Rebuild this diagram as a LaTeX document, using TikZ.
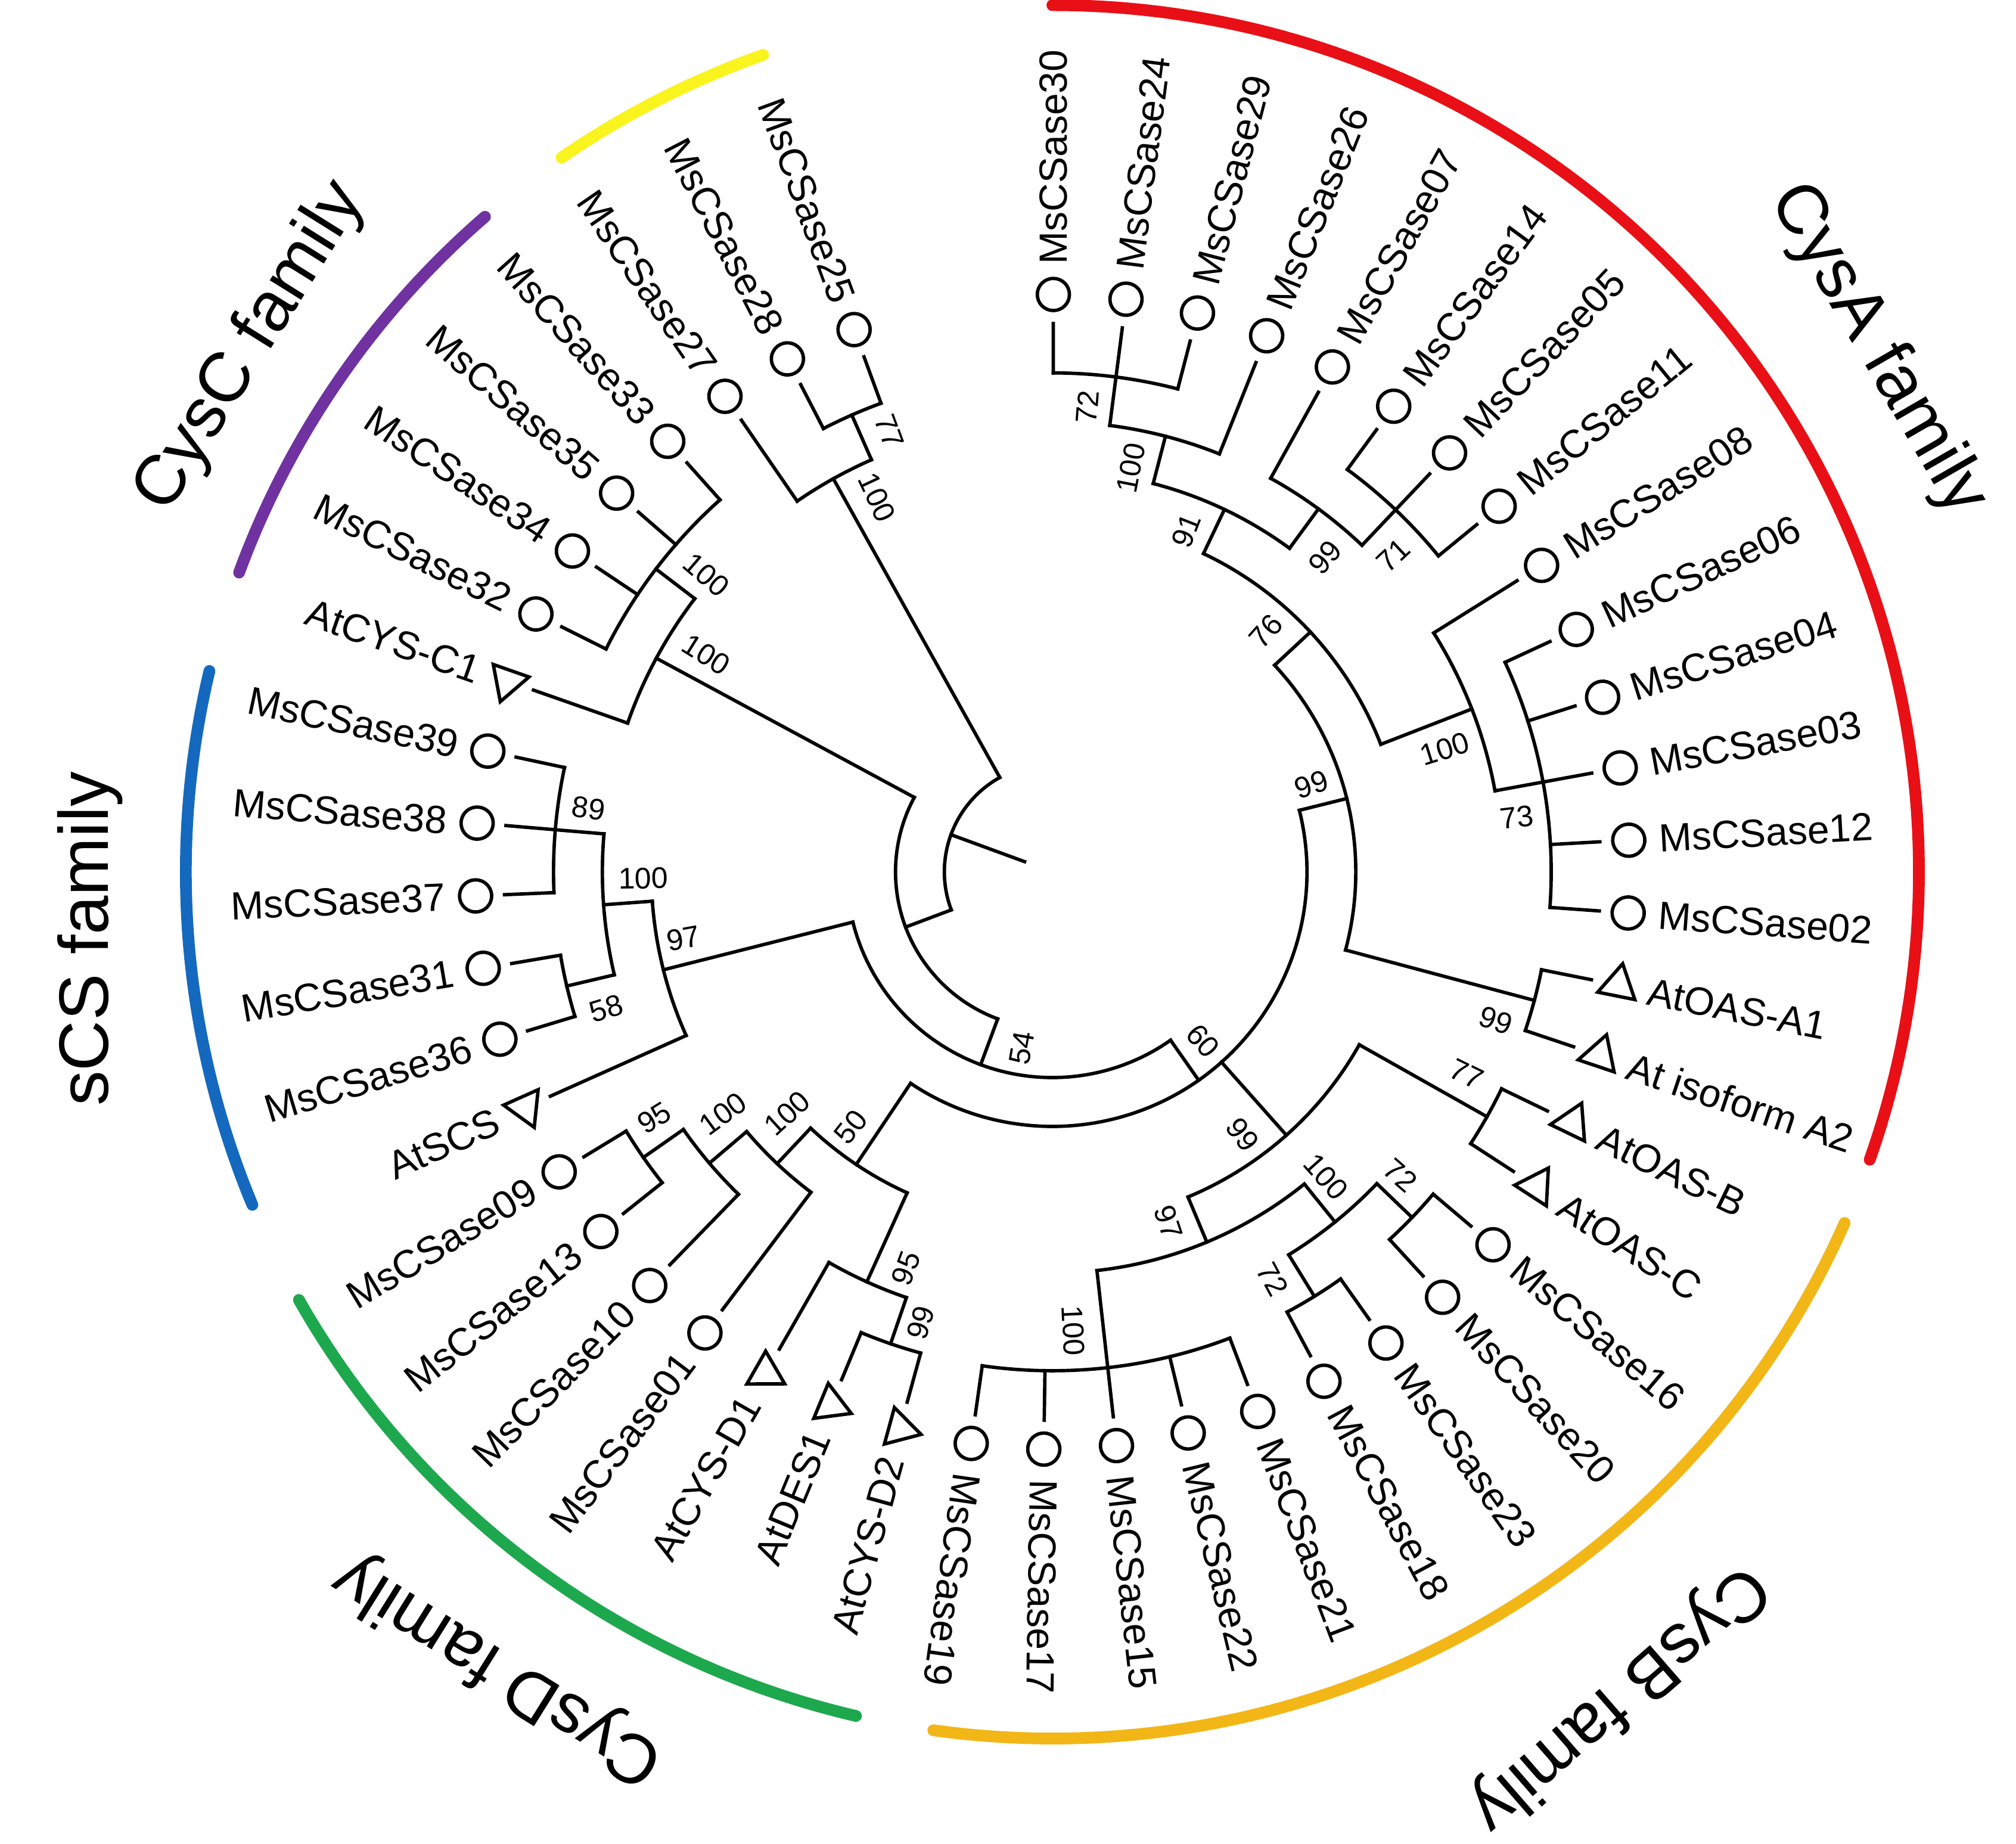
\documentclass[tikz,border=0pt]{standalone}
\usepackage{fontspec}
\setmainfont{Liberation Sans}
\usetikzlibrary{shapes.geometric}

\definecolor{cysA}{RGB}{232,16,22}
\definecolor{cysB}{RGB}{242,182,22}
\definecolor{cysD}{RGB}{30,168,78}
\definecolor{scs}{RGB}{20,105,190}
\definecolor{cysC}{RGB}{112,50,160}
\definecolor{cysY}{RGB}{250,244,30}

% angle of the n-th leaf, clockwise from MsCSase30
\newcommand{\tipang}[1]{89.9-7.23*(#1-1)}

\tikzset{
  br/.style={line width=0.75pt, line cap=rect},
  famarc/.style={line width=2.6pt, line cap=round},
  leaf/.style={font=\fontsize{8.7}{9}\selectfont, inner sep=0pt},
  boot/.style={font=\fontsize{6.6}{7}\selectfont, inner sep=0pt},
  fam/.style={font=\fontsize{15.5}{17}\selectfont, inner sep=0pt},
  circmark/.style={circle, draw, line width=0.75pt, minimum size=0.25cm, inner sep=0pt, outer sep=0.1cm},
  trimark/.style={regular polygon, regular polygon sides=3, draw, line width=0.75pt, minimum size=0.34cm, inner sep=0pt, outer sep=0.1cm}
}

\begin{document}
\begin{tikzpicture}
\useasboundingbox (-8.185,-7.56) rectangle (7.495,6.78);

% family arcs
\draw[famarc, cysA] (90:6.74) arc[start angle=90, end angle=-19.4, radius=6.74];
\draw[famarc, cysB] (-23.9:6.74) arc[start angle=-23.9, end angle=-97.9, radius=6.74];
\draw[famarc, cysD] (256.9:6.74) arc[start angle=256.9, end angle=209.6, radius=6.74];
\draw[famarc, scs] (202.6:6.74) arc[start angle=202.6, end angle=166.6, radius=6.74];
\draw[famarc, cysC] (159.8:6.74) arc[start angle=159.8, end angle=130.9, radius=6.74];
\draw[famarc, cysY] (124.5:6.74) arc[start angle=124.5, end angle=109.5, radius=6.74];

\node[fam, rotate=-60] (famA) at (6.415,4.06) {CysA family};
\node[fam, rotate=-139] (famB) at (4.40,-6.42) {CysB family};
\node[fam, rotate=148] (famD) at (-4.305,-6.20) {CysD family};
\node[fam, rotate=90] (famS) at (-7.485,-0.52) {sCS family};
\node[fam, rotate=58] (famC) at (-6.235,4.08) {CysC family};

% internal arcs: radius / first leaf / last leaf
\foreach \r/\p/\q in {
  3.88/1/3, 3.50/2/4, 3.88/6/8, 3.50/5/7, 3.12/3/6, 3.88/10/14, 3.50/9/12,
  2.74/4.5/10.5, 3.88/15/16, 2.36/7.5/15.5,
  3.88/17/18, 3.88/19/20, 3.88/21/22, 3.50/19.5/21.5, 3.88/23/27, 3.12/20.5/25, 2.74/17.5/22.75,
  3.88/28/29, 3.50/28.5/30, 3.88/33/34, 3.50/32/33.5, 3.12/31/32.75, 2.74/29.25/31.875,
  3.88/36/37, 3.88/38/40, 3.50/36.5/39, 3.12/35/37.75,
  3.88/42/45, 3.50/41/43.5,
  3.88/47/48, 3.50/46/47.5,
  1.98/11.5/30.5625, 1.60/21.03125/36.375, 1.22/28.703125/42.25, 0.84/35.4765625/46.75}
{
  \pgfmathsetmacro{\ta}{\tipang{\p}}
  \pgfmathsetmacro{\tb}{\tipang{\q}}
  \draw[br] (\ta:\r) arc[start angle=\ta, end angle=\tb, radius=\r];
}

% radial stems: leaf position / inner radius / outer radius
\foreach \p/\r/\s in {
  3/3.12/3.50, 6/3.12/3.50, 4.5/2.74/3.12, 10.5/2.74/3.50, 7.5/2.36/2.74, 15.5/2.36/3.88, 11.5/1.98/2.36,
  17.5/2.74/3.88, 19.5/3.50/3.88, 21.5/3.50/3.88, 20.5/3.12/3.50, 22.75/2.74/3.12, 20.125/1.98/2.74,
  28.5/3.50/3.88, 29.25/2.74/3.50, 33.5/3.50/3.88, 32.75/3.12/3.50, 31.875/2.74/3.12, 30.5625/1.98/2.74,
  36.5/3.50/3.88, 37.75/3.12/3.50, 36.375/1.60/3.12,
  43.5/3.50/3.88, 42.25/1.22/3.50,
  47.5/3.50/3.88, 46.75/0.84/3.50,
  21.03125/1.60/1.98, 28.703125/1.22/1.60, 35.4765625/0.84/1.22, 41.11328125/0.23/0.84}
{
  \pgfmathsetmacro{\ta}{\tipang{\p}}
  \draw[br] (\ta:\r) -- (\ta:\s);
}

% leaves
\foreach \lab/\lev/\shp [count=\n] in {
  MsCSase30/3.88/circmark, MsCSase24/3.50/circmark, MsCSase29/3.88/circmark, MsCSase26/3.50/circmark,
  MsCSase07/3.50/circmark, MsCSase14/3.88/circmark, MsCSase05/3.50/circmark, MsCSase11/3.88/circmark,
  MsCSase08/3.50/circmark, MsCSase06/3.88/circmark, MsCSase04/3.88/circmark, MsCSase03/3.50/circmark,
  MsCSase12/3.88/circmark, MsCSase02/3.88/circmark, AtOAS-A1/3.88/trimark, At isoform A2/3.88/trimark,
  AtOAS-B/3.88/trimark, AtOAS-C/3.88/trimark, MsCSase16/3.88/circmark, MsCSase20/3.88/circmark,
  MsCSase23/3.88/circmark, MsCSase18/3.88/circmark, MsCSase21/3.88/circmark, MsCSase22/3.88/circmark,
  MsCSase15/3.12/circmark, MsCSase17/3.88/circmark, MsCSase19/3.88/circmark, AtCYS-D2/3.88/trimark,
  AtDES1/3.88/trimark, AtCYS-D1/3.50/trimark, MsCSase01/3.12/circmark, MsCSase10/3.50/circmark,
  MsCSase13/3.88/circmark, MsCSase09/3.88/circmark, AtSCS/3.12/trimark, MsCSase36/3.88/circmark,
  MsCSase31/3.88/circmark, MsCSase37/3.88/circmark, MsCSase38/3.50/circmark, MsCSase39/3.88/circmark,
  AtCYS-C1/3.50/trimark, MsCSase32/3.88/circmark, MsCSase34/3.88/circmark, MsCSase35/3.88/circmark,
  MsCSase33/3.88/circmark, MsCSase27/3.50/circmark, MsCSase28/3.88/circmark, MsCSase25/3.88/circmark}
{
  \pgfmathsetmacro{\ta}{\tipang{\n}}
  \node[\shp, rotate=\ta] (m\n) at (\ta:4.49) {};
  \draw[br] (\ta:\lev) -- (m\n);
  \ifnum\n<28
    \node[leaf, anchor=west, rotate=\ta] (l\n) at (\ta:4.72) {\lab};
  \else
    \pgfmathsetmacro{\ra}{\ta-180}
    \node[leaf, anchor=east, rotate=\ra] (l\n) at (\ta:4.72) {\lab};
  \fi
}

% bootstrap values
\foreach \ta/\r/\bv [count=\k] in {
  85.7/3.626/72, 79/3.20/100, 68.6/2.85/91, 49.1/3.237/99, 42.9/3.618/71, 48.4/2.502/76,
  17.4/3.198/100, 6.7/3.638/73, 18.65/2.127/99, -18.5/3.638/99,
  -48.3/1.76/60, -54.1/2.523/99, -26/3.585/77, -71.7/2.87/97, -87.4/3.572/100, -48.1/3.186/100,
  -41.1/3.59/72, -61.6/3.602/72, 260.1/1.391/54,
  231.7/2.53/50, 222.3/2.79/100, 216.3/3.178/100, 211.7/3.64/95, 249.7/3.287/95, 253.7/3.653/99,
  190.2/2.917/97, 180.9/3.182/100, 172.2/3.64/89, 197/3.628/58,
  147.9/3.178/100, 139.4/3.547/100, 115.1/3.217/100, 110.3/3.654/77}
{
  \pgfmathsetmacro{\rot}{cos(\ta)<0 ? \ta-180 : \ta}
  \node[boot, rotate=\rot] (bs\k) at (\ta:\r) {\bv};
}
\end{tikzpicture}
\end{document}
